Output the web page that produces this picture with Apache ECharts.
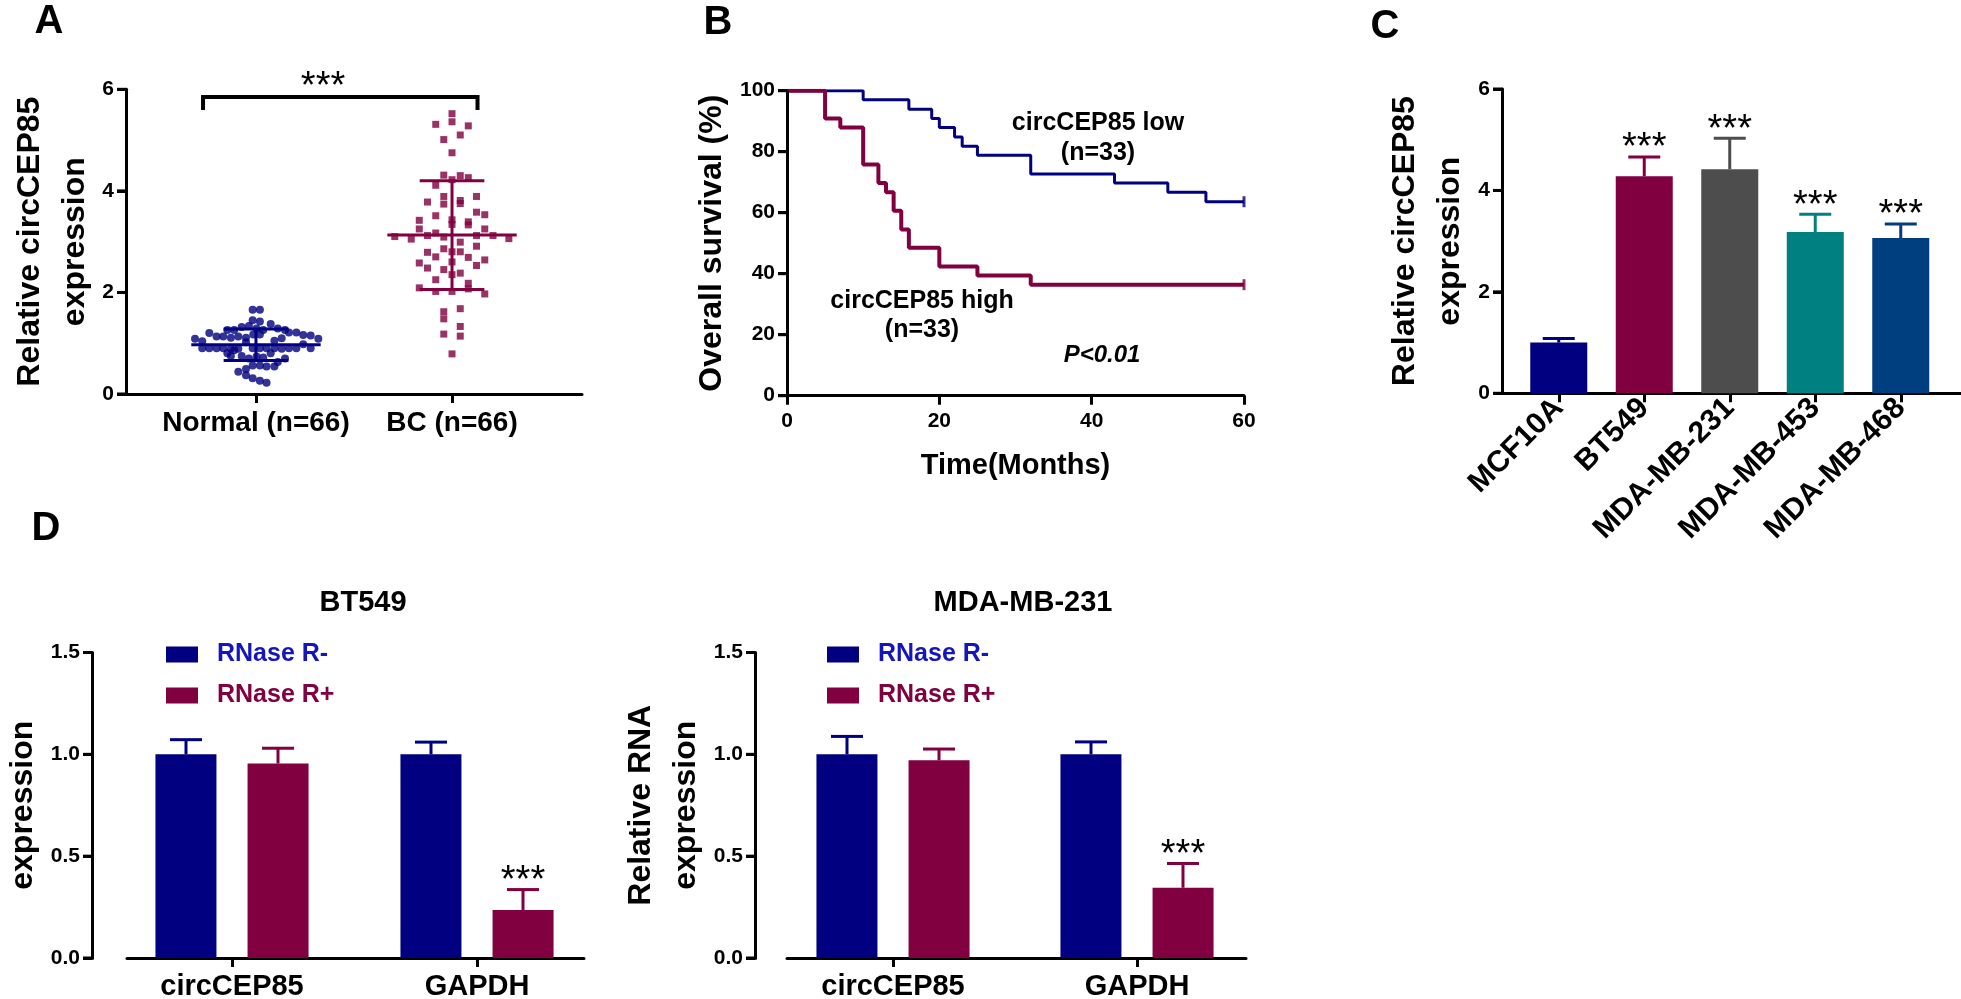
<!DOCTYPE html>
<html><head><meta charset="utf-8">
<script src="https://cdn.jsdelivr.net/npm/echarts@6/dist/echarts.min.js"></script>
<style>html,body{margin:0;padding:0;background:#fff}#c{width:1961px;height:999px}#err{position:absolute;left:1300px;top:700px;width:650px;font:12px monospace;color:#c00;white-space:pre-wrap}</style>
</head><body><div id="c"></div><div id="err"></div>
<script>
window.onerror = function(msg, src, line, col){ document.getElementById('err').textContent += 'ERR: '+msg+' @'+line+':'+col+'\n'; };
// ---------- Panel A ----------
const groupsA = ['Normal (n=66)', 'BC (n=66)'];
const normalVals = [1.66,1.66,1.45,1.43,1.38, 1.26,1.26,1.32,1.34,1.29,1.26,1.29,1.26,1.21,1.21,
  1.20,1.13,1.13,1.11,1.13,1.17,1.17,1.05,1.10,1.16, 1.15,1.09,1.09,1.04,1.11,
  0.90,0.90,0.90,0.90,0.89,0.89, 1.02,0.90,0.90,0.90,0.90,0.89,0.90,0.90,0.98,0.90,
  0.80,0.75,0.86,0.75,0.70,0.74,0.72,0.80,0.63,0.70, 0.56,0.56,0.54,0.54,
  0.44,0.49,0.37,0.31,0.26,0.22];
const normalDx = [-0.017,0.020,-0.017,0.020,0.075, -0.146,-0.111,-0.073,-0.036,0.003,0.037,0.111,0.148,0.168,0.206,
  -0.238,-0.201,-0.167,-0.128,-0.090,-0.014,0.020,0.094,0.131,0.241, 0.279,0.318,-0.311,-0.274,-0.051,
  -0.274,-0.238,-0.201,-0.167,-0.128,-0.090, -0.051,-0.017,0.020,0.054,0.094,0.131,0.168,0.206,0.241,0.279,
  -0.146,-0.128,-0.111,-0.073,-0.036,0.003,0.037,0.075,0.111,0.148, -0.017,0.020,0.054,0.094,
  -0.090,-0.051,-0.051,-0.017,0.020,0.054];
const bcVals = [5.52,5.36,5.31,5.28,5.10,5.01,4.75, 4.31,4.30,4.26,4.22,4.11, 3.89,3.78,3.81,3.74,3.75,3.89,
  3.51,3.58,3.53,3.42,3.43,3.39,3.34,3.33, 3.25,3.25,3.10,3.05,3.12,3.17,3.09,3.12,3.12,3.06,
  2.99,2.86,2.91,2.79,2.70,2.80,2.80,2.69,2.58,2.53,2.64,2.48,2.45,2.60,2.35,2.38,
  2.25,2.18,2.09,2.02,2.02,2.07,1.97, 1.62,1.68,1.48,1.33,1.18,1.14,0.79];
const bcDx = [0,0,-0.083,0.083,0.042,-0.042,0, -0.042,0.042,0.083,0,-0.083, -0.042,-0.125,0.042,-0.042,0.042,0.125,
  -0.083,0.125,0.167,-0.167,0,0.083,0,0.083, -0.167,0.167,-0.292,-0.208,-0.125,-0.083,-0.042,0.125,0.209,0.29,
  0.042,-0.042,0.125,-0.125,-0.083,0,0.042,0.083,-0.167,0.125,0.167,-0.125,-0.042,0,0,0.042,
  -0.083,0.083,-0.167,-0.083,0,0.083,0.167, -0.042,0.042,-0.042,0.042,-0.042,0.042,0];
const meansA = [0.97, 3.13];
const sdsA = [0.31, 1.07];
const sigA = '***';
const ticksA = [0, 2, 4, 6];

// ---------- Panel B ----------
const lowTimes  = [0,10,16,19,20,22,23,25,32,43,50,55,60];
const lowSurv   = [100,97.0,93.9,90.9,87.9,84.8,81.8,78.8,72.7,69.7,66.7,63.6,63.6];
const highTimes = [0,5,7,10,12,13,14,15,16,20,25,32,60];
const highSurv  = [100,90.9,87.9,75.8,69.7,66.7,60.6,54.5,48.5,42.4,39.4,36.4,36.4];
const ticksB = [0, 20, 40, 60, 80, 100];

// ---------- Panel C ----------
const cellLines = ['MCF10A','BT549','MDA-MB-231','MDA-MB-453','MDA-MB-468'];
const cellMeans = [1.0, 4.28, 4.42, 3.18, 3.06];
const cellErr   = [0.08, 0.38, 0.61, 0.35, 0.28];
const cellSig   = ['', '***', '***', '***', '***'];
const ticksC = [0, 2, 4, 6];

// ---------- Panel D ----------
const genesD = ['circCEP85', 'GAPDH'];
const btMinus = [1.0, 1.0];     const btMinusErr = [0.072, 0.06];
const btPlus  = [0.955, 0.236]; const btPlusErr  = [0.075, 0.10];
const mdaMinus = [1.0, 1.0];    const mdaMinusErr = [0.088, 0.061];
const mdaPlus  = [0.971, 0.345];const mdaPlusErr  = [0.055, 0.119];
const sigD = ['', '***'];
const ticksD = [0, 0.5, 1.0, 1.5];

// ---------- styles ----------
const FONT = '"Liberation Sans", Arial, Helvetica, sans-serif';
const NAVY = '#000080', MAROON = '#800040';
const cellColors = [NAVY, MAROON, '#4d4d4d', '#008080', '#003f7f'];
const mkLine = ()=>({show:true, onZero:false, lineStyle:{color:'#000', width:3}});
const mkTick = ()=>({show:true, length:9, lineStyle:{color:'#000', width:3}});
const mkLbl = ()=>({color:'#000', fontSize:21, fontWeight:'bold', fontFamily:FONT, margin:12});
const mkName = ()=>({color:'#000', fontSize:32, fontWeight:'bold', fontFamily:FONT, lineHeight:45});

function lineOnlyX(gi){ return {gridIndex:gi, type:'value', min:0, max:1, axisLine:mkLine(), axisTick:{show:false}, axisLabel:{show:false}, splitLine:{show:false}}; }
function hiddenY(gi){ return {gridIndex:gi, type:'value', show:false, min:0, max:1}; }
function catX(gi, data, lbl){ return {gridIndex:gi, type:'category', data:data, axisLine:{show:false, onZero:false},
  axisTick:Object.assign({alignWithLabel:true}, mkTick()), axisLabel:Object.assign({color:'#000', fontWeight:'bold', fontFamily:FONT, interval:0}, lbl), splitLine:{show:false}}; }
function valY(gi, min, max, interval, name, gap, extra){
  return Object.assign({gridIndex:gi, type:'value', min:min, max:max, interval:interval,
    axisLine:mkLine(), axisTick:mkTick(), axisLabel:mkLbl(), splitLine:{show:false},
    name:name, nameLocation:'middle', nameRotate:90, nameGap:gap, nameMoveOverlap:false, nameTextStyle:mkName()}, extra || {});
}

// y-axis line + ticks drawn through the axis scale
function yAxisDraw(xi, yi, ticks, off){
  return {type:'custom', xAxisIndex:xi, yAxisIndex:yi, silent:true, z:6,
    data: ticks.map(v=>[0, v]),
    renderItem(params, api){
      const top = api.coord([0, ticks[ticks.length-1]]);
      const bot = api.coord([0, ticks[0]]);
      const cs = params.coordSys || {};
      const left = (typeof cs.x === 'number') ? cs.x : 0;
      const x = Math.round(left - off) + 0.5;
      const y = api.coord([0, api.value(1)])[1];
      const ch = [{type:'line', shape:{x1:x, y1:y, x2:x-9.5, y2:y}, style:{stroke:'#000', lineWidth:3}}];
      if (params.dataIndex === 0) ch.push({type:'line', shape:{x1:x, y1:top[1], x2:x, y2:bot[1]+1.5}, style:{stroke:'#000', lineWidth:3}});
      return {type:'group', children:ch};
    }};
}

function errSeries(xi, yi, means, errs, sig, color, pxOff){
  return {type:'custom', xAxisIndex:xi, yAxisIndex:yi, z:5, silent:true,
    data: means.map((m,i)=>[i, m, m+errs[i]]),
    renderItem(params, api){
      const i = api.value(0);
      const b = api.coord([i, api.value(1)]);
      const t = api.coord([i, api.value(2)]);
      const x = b[0] + pxOff;
      const c = Array.isArray(color) ? color[params.dataIndex] : color;
      const ch = [
        {type:'line', shape:{x1:x, y1:b[1], x2:x, y2:t[1]}, style:{stroke:c, lineWidth:3}},
        {type:'line', shape:{x1:x-16, y1:t[1], x2:x+16, y2:t[1]}, style:{stroke:c, lineWidth:3}}
      ];
      const s = sig[params.dataIndex];
      if (s) ch.push({type:'text', x:x, y:t[1]-8, style:{text:s, fill:'#000', font:'38px '+FONT, align:'center', verticalAlign:'middle'}});
      return {type:'group', children:ch};
    }};
}

const G = (o)=>Object.assign({containLabel:false, outerBoundsMode:'none'}, o);
const fmt1 = (v)=>Number(v).toFixed(1);

const option = {
  animation:false,
  backgroundColor:'#fff',
  textStyle:{fontFamily:FONT},
  grid:[
    G({left:126, top:89.3, width:456, height:304.7}),     // 0 A
    G({left:158, top:89.3, width:392, height:304.7}),     // 1 A labels
    G({left:787, top:90.7, width:457, height:305}),       // 2 B
    G({left:1516, top:89, width:427.5, height:304.3}),    // 3 C
    G({left:1502, top:89, width:459, height:304.3}),      // 4 C line
    G({left:109.5, top:652.5, width:490, height:305.5}),  // 5 D-L
    G({left:127, top:652.5, width:457, height:305.5}),    // 6 D-L line
    G({left:771, top:652.5, width:488, height:305.5}),    // 7 D-R
    G({left:787, top:652.5, width:459, height:305.5})     // 8 D-R line
  ],
  xAxis:[
    {gridIndex:0, type:'value', min:-0.663, max:1.663, axisLine:mkLine(), axisTick:{show:false}, axisLabel:{show:false}, splitLine:{show:false}},
    catX(1, groupsA, {fontSize:28, margin:15}),
    {gridIndex:2, type:'value', min:0, max:60, interval:20, axisLine:mkLine(), axisTick:mkTick(),
      axisLabel:Object.assign(mkLbl(), {margin:15}), splitLine:{show:false},
      name:'Time(Months)', nameLocation:'middle', nameGap:56, nameTextStyle:{color:'#000', fontSize:29, fontWeight:'bold', fontFamily:FONT}},
    catX(3, cellLines, {fontSize:30, rotate:45, margin:10}),
    lineOnlyX(4),
    catX(5, genesD, {fontSize:29, margin:14}),
    lineOnlyX(6),
    catX(7, genesD, {fontSize:29, margin:14}),
    lineOnlyX(8)
  ],
  yAxis:[
    valY(0, 0, 6, 2, 'Relative circCEP85\nexpression', 28.5),
    hiddenY(1),
    valY(2, 0, 100, 20, 'Overall survival (%)', 52.5),
    valY(3, 0, 6, 2, 'Relative circCEP85\nexpression', 29.5, {offset:14}),
    hiddenY(4),
    valY(5, 0, 1.5, 0.5, 'Relative RNA\nexpression', 46.5, {offset:17.5, axisLabel:Object.assign(mkLbl(), {formatter:fmt1})}),
    hiddenY(6),
    valY(7, 0, 1.5, 0.5, 'Relative RNA\nexpression', 46.5, {offset:16, axisLabel:Object.assign(mkLbl(), {formatter:fmt1})}),
    hiddenY(8)
  ],
  legend:[
    {left:161, top:637, orient:'vertical', itemWidth:32, itemHeight:16, itemGap:16, icon:'rect', selectedMode:false,
      textStyle:{fontSize:25, fontWeight:'bold', fontFamily:FONT, padding:[0,0,0,14]},
      data:[{name:'RNase R-', textStyle:{color:'#1515c0'}}, {name:'RNase R+', textStyle:{color:MAROON}}]},
    {left:822, top:637, orient:'vertical', itemWidth:32, itemHeight:16, itemGap:16, icon:'rect', selectedMode:false,
      textStyle:{fontSize:25, fontWeight:'bold', fontFamily:FONT, padding:[0,0,0,14]},
      data:[{name:'RNase R-', textStyle:{color:'#1515c0'}}, {name:'RNase R+', textStyle:{color:MAROON}}]}
  ],
  graphic:[
    {type:'text', x:49, y:22, style:{text:'A', font:'bold 40px '+FONT, fill:'#000', align:'center', verticalAlign:'middle'}},
    {type:'text', x:718, y:23, style:{text:'B', font:'bold 40px '+FONT, fill:'#000', align:'center', verticalAlign:'middle'}},
    {type:'text', x:1385, y:27, style:{text:'C', font:'bold 40px '+FONT, fill:'#000', align:'center', verticalAlign:'middle'}},
    {type:'text', x:46, y:529, style:{text:'D', font:'bold 40px '+FONT, fill:'#000', align:'center', verticalAlign:'middle'}},
    {type:'text', x:363, y:603, style:{text:'BT549', font:'bold 29px '+FONT, fill:'#000', align:'center', verticalAlign:'middle'}},
    {type:'text', x:1023, y:603, style:{text:'MDA-MB-231', font:'bold 29px '+FONT, fill:'#000', align:'center', verticalAlign:'middle'}},
    {type:'text', x:1098, y:123, style:{text:'circCEP85 low', font:'bold 25px '+FONT, fill:'#000', align:'center', verticalAlign:'middle'}},
    {type:'text', x:1098, y:153, style:{text:'(n=33)', font:'bold 25px '+FONT, fill:'#000', align:'center', verticalAlign:'middle'}},
    {type:'text', x:922, y:301, style:{text:'circCEP85 high', font:'bold 25px '+FONT, fill:'#000', align:'center', verticalAlign:'middle'}},
    {type:'text', x:922, y:330, style:{text:'(n=33)', font:'bold 25px '+FONT, fill:'#000', align:'center', verticalAlign:'middle'}},
    {type:'text', x:1102, y:355, style:{text:'P<0.01', font:'italic bold 24px '+FONT, fill:'#000', align:'center', verticalAlign:'middle'}}
  ],
  series:[
    yAxisDraw(0, 0, ticksA, 0),
    yAxisDraw(2, 2, ticksB, 0),
    yAxisDraw(3, 3, ticksC, 14),
    yAxisDraw(5, 5, ticksD, 17.5),
    yAxisDraw(7, 7, ticksD, 16),
    {type:'scatter', xAxisIndex:0, yAxisIndex:0, symbol:'circle', symbolSize:8, itemStyle:{color:NAVY}, z:3,
      data: normalVals.map((v,i)=>[0 + normalDx[i], v])},
    {type:'scatter', xAxisIndex:0, yAxisIndex:0, symbol:'rect', symbolSize:7, itemStyle:{color:MAROON}, z:3,
      data: bcVals.map((v,i)=>[1 + bcDx[i], v])},
    {type:'custom', xAxisIndex:0, yAxisIndex:0, z:4, silent:true,
      data: meansA.map((m,i)=>[i, m, sdsA[i]]),
      renderItem(params, api){
        const g = api.value(0), m = api.value(1), s = api.value(2);
        const c = [NAVY, MAROON][params.dataIndex];
        const L = (a,b)=>{ const p=api.coord(a), q=api.coord(b); return {type:'line', shape:{x1:p[0],y1:p[1],x2:q[0],y2:q[1]}, style:{stroke:c, lineWidth:3}}; };
        return {type:'group', children:[
          L([g-0.33,m],[g+0.33,m]), L([g-0.165,m+s],[g+0.165,m+s]), L([g-0.165,m-s],[g+0.165,m-s]), L([g,m-s],[g,m+s])
        ]};
      }},
    {type:'custom', xAxisIndex:0, yAxisIndex:0, z:4, silent:true,
      data:[[-0.27, 1.13, 5.85, 5.59, 0.342, 6.22]],
      renderItem(params, api){
        const a = api.coord([api.value(0), api.value(3)]);
        const b = api.coord([api.value(0), api.value(2)]);
        const c = api.coord([api.value(1), api.value(2)]);
        const d = api.coord([api.value(1), api.value(3)]);
        const s = api.coord([api.value(4), api.value(5)]);
        return {type:'group', children:[
          {type:'polyline', shape:{points:[a,b,c,d]}, style:{stroke:'#000', lineWidth:4, fill:'none'}},
          {type:'text', x:s[0], y:s[1]+9, style:{text:sigA, fill:'#000', font:'38px '+FONT, align:'center', verticalAlign:'middle'}}
        ]};
      }},
    {type:'line', xAxisIndex:2, yAxisIndex:2, step:'end', showSymbol:false, silent:true,
      lineStyle:{color:NAVY, width:3}, itemStyle:{color:NAVY},
      data: lowTimes.map((t,i)=>[t, lowSurv[i]])},
    {type:'line', xAxisIndex:2, yAxisIndex:2, step:'end', showSymbol:false, silent:true,
      lineStyle:{color:MAROON, width:4}, itemStyle:{color:MAROON},
      data: highTimes.map((t,i)=>[t, highSurv[i]])},
    {type:'scatter', xAxisIndex:2, yAxisIndex:2, symbol:'rect', symbolSize:[3,11], silent:true,
      data:[{value:[lowTimes[lowTimes.length-1], lowSurv[lowSurv.length-1]], itemStyle:{color:NAVY}},
            {value:[highTimes[highTimes.length-1], highSurv[highSurv.length-1]], itemStyle:{color:MAROON}}]},
    {type:'bar', xAxisIndex:3, yAxisIndex:3, barWidth:57, silent:true,
      data: cellMeans.map((v,i)=>({value:v, itemStyle:{color:cellColors[i]}}))},
    errSeries(3, 3, cellMeans, cellErr, cellSig, cellColors, 0),
    {type:'bar', name:'RNase R-', xAxisIndex:5, yAxisIndex:5, barWidth:61, barGap:'51%', itemStyle:{color:NAVY}, silent:true, data:btMinus},
    {type:'bar', name:'RNase R+', xAxisIndex:5, yAxisIndex:5, barWidth:61, barGap:'51%', itemStyle:{color:MAROON}, silent:true, data:btPlus},
    errSeries(5, 5, btMinus, btMinusErr, ['',''], NAVY, -46),
    errSeries(5, 5, btPlus, btPlusErr, sigD, MAROON, 46),
    {type:'bar', name:'RNase R-', xAxisIndex:7, yAxisIndex:7, barWidth:61, barGap:'51%', itemStyle:{color:NAVY}, silent:true, data:mdaMinus},
    {type:'bar', name:'RNase R+', xAxisIndex:7, yAxisIndex:7, barWidth:61, barGap:'51%', itemStyle:{color:MAROON}, silent:true, data:mdaPlus},
    errSeries(7, 7, mdaMinus, mdaMinusErr, ['',''], NAVY, -46),
    errSeries(7, 7, mdaPlus, mdaPlusErr, sigD, MAROON, 46)
  ]
};
try {
  const chart = echarts.init(document.getElementById('c'), null, {renderer:'canvas'});
  chart.setOption(option);
} catch (e) {
  document.getElementById('err').textContent += 'EXC: ' + e.message + '\n' + (e.stack||'').split('\n').slice(0,4).join('\n');
}
</script>
</body></html>
